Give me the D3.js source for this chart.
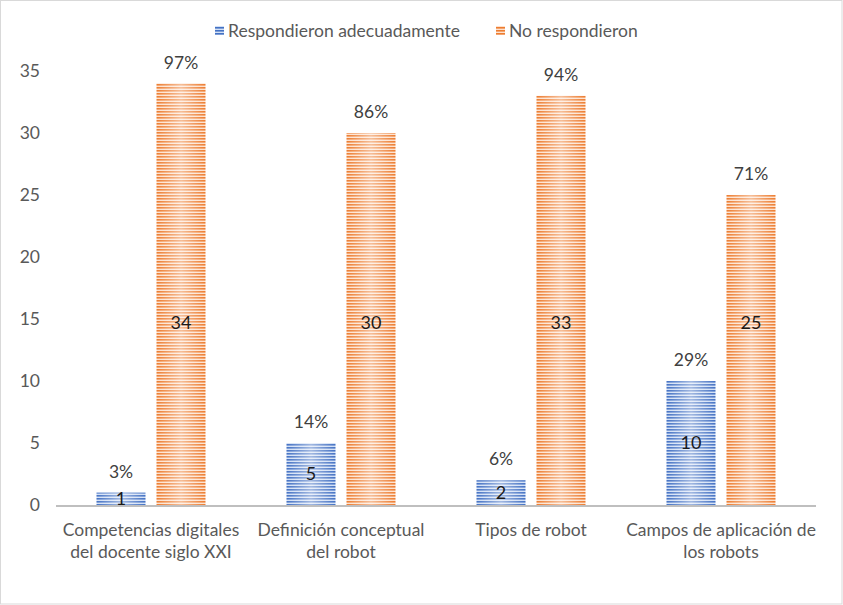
<!DOCTYPE html>
<html>
<head>
<meta charset="utf-8">
<script src="https://cdn.jsdelivr.net/npm/d3@7"></script>
<style>
  body { margin: 0; background: #fff; }
  svg { font-family: Lato, "Open Sans", sans-serif; }
</style>
</head>
<body>
<svg id="chart"></svg>
<script>
const categories = [
  ['Competencias digitales', 'del docente siglo XXI'],
  ['Definición conceptual', 'del robot'],
  ['Tipos de robot'],
  ['Campos de aplicación de', 'los robots']
]
const seriesNames = ['Respondieron adecuadamente', 'No respondieron']
const adecuado = [1, 5, 2, 10]
const noResp = [34, 30, 33, 25]
const adecuadoPct = ['3%', '14%', '6%', '29%']
const noRespPct = ['97%', '86%', '94%', '71%']
const yTicks = [0, 5, 10, 15, 20, 25, 30, 35]

const width = 843
const height = 605
const colors = ['#4472C4', '#ED7D31']
const lights = ['#d3e0f5', '#fde2cf']

const svg = d3.select('#chart')
  .attr('width', width)
  .attr('height', height)

// outer border
svg.append('rect')
  .attr('x', 0.5).attr('y', 0.5)
  .attr('width', width - 1.5).attr('height', height - 1.5)
  .attr('fill', '#fff').attr('stroke', '#d9d9d9')

// striped fills
const defs = svg.append('defs')
colors.forEach((c, i) => {
  const g = defs.append('linearGradient').attr('id', 'shine' + i)
  g.append('stop').attr('offset', '0%').attr('stop-color', '#fff').attr('stop-opacity', 0)
  g.append('stop').attr('offset', '50%').attr('stop-color', '#fff').attr('stop-opacity', 0.5)
  g.append('stop').attr('offset', '100%').attr('stop-color', '#fff').attr('stop-opacity', 0)
  const p = defs.append('pattern').attr('id', 'stripe' + i)
    .attr('patternUnits', 'userSpaceOnUse').attr('width', 8).attr('height', 3)
  p.append('rect').attr('width', 8).attr('height', 3).attr('fill', lights[i])
  p.append('rect').attr('width', 8).attr('height', 1.6).attr('fill', c)
})

const x = d3.scaleBand()
  .domain(d3.range(categories.length))
  .range([56, 816])

const x1 = d3.scaleBand()
  .domain([0, 1])
  .range([40.5, 149.5])
  .paddingInner(11 / 60)

const y = d3.scaleLinear()
  .domain([0, 35])
  .range([505, 71])

// y axis labels
svg.append('g')
  .selectAll('text')
  .data(yTicks)
  .join('text')
  .attr('x', 40)
  .attr('y', d => y(d))
  .attr('dy', '0.35em')
  .attr('text-anchor', 'end')
  .attr('fill', '#595959')
  .style('font-size', '17.5px')
  .text(d => d)

const series = [adecuado, noResp]
const pcts = [adecuadoPct, noRespPct]

series.forEach((vals, s) => {
  const g = svg.append('g')
  const bars = g.selectAll('g')
    .data(vals)
    .join('g')
  bars.append('rect')
    .attr('x', (d, i) => x(i) + x1(s))
    .attr('y', d => y(d))
    .attr('width', x1.bandwidth())
    .attr('height', d => y(0) - y(d))
    .attr('fill', 'url(#stripe' + s + ')')
  bars.append('rect')
    .attr('x', (d, i) => x(i) + x1(s))
    .attr('y', d => y(d))
    .attr('width', x1.bandwidth())
    .attr('height', d => y(0) - y(d))
    .attr('fill', 'url(#shine' + s + ')')

  // value labels: blue centred in the bar, orange at a common level
  g.selectAll('text.val')
    .data(vals)
    .join('text')
    .attr('class', 'val')
    .attr('x', (d, i) => x(i) + x1(s) + x1.bandwidth() / 2)
    .attr('y', d => y(s ? 14.7 : d / 2))
    .attr('dy', '0.35em')
    .attr('text-anchor', 'middle')
    .attr('fill', '#1a1a1a')
    .style('font-size', '18px')
    .text(d => d)

  // percent labels
  g.selectAll('text.pct')
    .data(vals)
    .join('text')
    .attr('class', 'pct')
    .attr('x', (d, i) => x(i) + x1(s) + x1.bandwidth() / 2)
    .attr('y', d => y(d) - 21)
    .attr('dy', '0.35em')
    .attr('text-anchor', 'middle')
    .attr('fill', '#404040')
    .style('font-size', '17.5px')
    .text((d, i) => pcts[s][i])
})

// baseline
svg.append('line')
  .attr('x1', 56).attr('x2', 816)
  .attr('y1', y(0) + 1).attr('y2', y(0) + 1)
  .attr('stroke', '#bfbfbf').attr('stroke-width', 2)

// category labels
svg.append('g')
  .selectAll('text')
  .data(categories)
  .join('text')
  .attr('x', (d, i) => x(i) + x.bandwidth() / 2)
  .attr('y', 536)
  .attr('text-anchor', 'middle')
  .attr('fill', '#595959')
  .style('font-size', '17.5px')
  .selectAll('tspan')
  .data(d => d)
  .join('tspan')
  .attr('x', function () { return this.parentNode.getAttribute('x') })
  .attr('dy', (d, i) => i ? 22 : 0)
  .text(d => d)

// legend
const legX = [215, 496]
const leg = svg.append('g')
seriesNames.forEach((n, i) => {
  leg.append('rect')
    .attr('x', legX[i]).attr('y', 26)
    .attr('width', 9).attr('height', 9)
    .attr('fill', 'url(#stripe' + i + ')')
  leg.append('text')
    .attr('x', legX[i] + 13).attr('y', 31)
    .attr('dy', '0.35em')
    .attr('fill', '#595959')
    .style('font-size', '17.5px')
    .text(n)
})
</script>
</body>
</html>
